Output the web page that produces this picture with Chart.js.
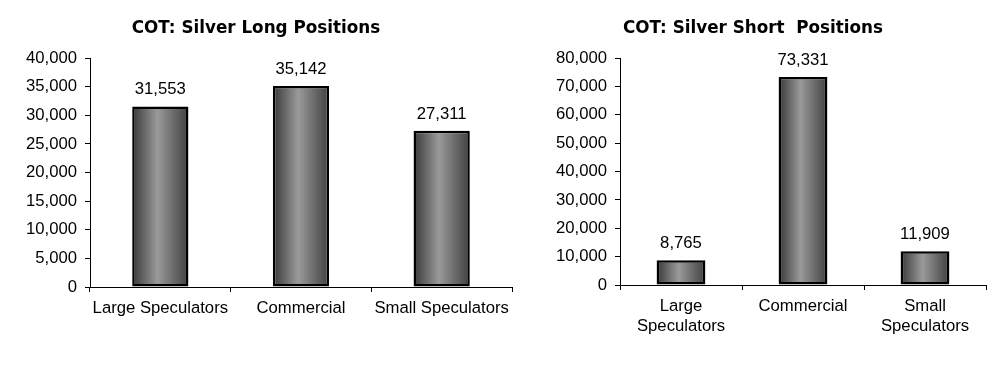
<!DOCTYPE html>
<html>
<head>
<meta charset="utf-8">
<script src="https://cdn.jsdelivr.net/npm/chart.js@4/dist/chart.umd.min.js"></script>
<style>
  html, body { margin: 0; padding: 0; background: #fff; }
  #wrap { position: relative; width: 1008px; height: 382px; overflow: hidden; }
  .box { position: absolute; top: 0; height: 382px; }
  #b1 { left: 0; width: 520px; }
  #b2 { left: 520px; width: 488px; }
</style>
</head>
<body>
<div id="wrap">
  <div class="box" id="b1"><canvas id="c1" width="520" height="382"></canvas></div>
  <div class="box" id="b2"><canvas id="c2" width="488" height="382"></canvas></div>
</div>
<script>
// ---- data ----
const longTitle = 'COT: Silver Long Positions';
const shortTitle = 'COT: Silver Short  Positions';
const longCategories = ['Large Speculators', 'Commercial', 'Small Speculators'];
const shortCategories = [['Large', 'Speculators'], 'Commercial', ['Small', 'Speculators']];
const longValues = [31553, 35142, 27311];
const shortValues = [8765, 73331, 11909];
const longTicks = [0, 5000, 10000, 15000, 20000, 25000, 30000, 35000, 40000];
const shortTicks = [0, 10000, 20000, 30000, 40000, 50000, 60000, 70000, 80000];

const FONT = '"Liberation Sans", Arial, sans-serif';
const FS = 16.7;
const fmt = v => Number(v).toLocaleString('en-US');
const BAR_PCT = 0.4;

function barGradient(ctx) {
  const chart = ctx.chart;
  const xs = chart.scales && chart.scales.x;
  if (!xs || ctx.dataIndex === undefined || !isFinite(xs.getPixelForValue(ctx.dataIndex))) return '#888';
  const cx = xs.getPixelForValue(ctx.dataIndex);
  const w = (xs.width / chart.data.labels.length) * BAR_PCT;
  const g = chart.ctx.createLinearGradient(cx - w / 2, 0, cx + w / 2, 0);
  g.addColorStop(0, '#383838');
  g.addColorStop(0.45, '#9a9a9a');
  g.addColorStop(1, '#404040');
  return g;
}

const valueLabels = {
  id: 'valueLabels',
  afterDatasetsDraw(chart) {
    const c = chart.ctx;
    const meta = chart.getDatasetMeta(0);
    const vals = chart.data.datasets[0].data;
    c.save();
    c.font = FS + 'px ' + FONT;
    c.fillStyle = '#000';
    c.textAlign = 'center';
    c.textBaseline = 'alphabetic';
    meta.data.forEach((el, i) => {
      c.fillText(fmt(vals[i]), el.x, el.y - 12);
    });
    c.restore();
  }
};

function makeChart(id, title, labels, values, ticks, yWidth, xHeight, padRight) {
  return new Chart(document.getElementById(id), {
    type: 'bar',
    data: {
      labels: labels,
      datasets: [{
        data: values,
        backgroundColor: barGradient,
        borderColor: '#000',
        borderWidth: 2.5,
        borderSkipped: false,
        categoryPercentage: 1,
        barPercentage: BAR_PCT
      }]
    },
    options: {
      responsive: false,
      animation: false,
      devicePixelRatio: 1,
      layout: { padding: { left: 0, right: padRight, top: 0, bottom: 0 } },
      plugins: {
        legend: { display: false },
        tooltip: { enabled: false },
        title: {
          display: true,
          text: title,
          color: '#000',
          font: { family: '"DejaVu Sans", Verdana, sans-serif', size: 16.8, weight: 'bold', lineHeight: 1.2 },
          padding: { top: 19, bottom: 19 }
        }
      },
      scales: {
        x: {
          offset: true,
          grid: { display: true, offset: true, drawOnChartArea: false, drawTicks: true, tickLength: 5, color: '#000', lineWidth: 1 },
          border: { display: true, color: '#000', width: 1 },
          ticks: { color: '#000', font: { family: FONT, size: FS, lineHeight: 1.2 }, padding: 6, maxRotation: 0, autoSkip: false },
          afterFit: s => { s.height = xHeight; }
        },
        y: {
          min: ticks[0],
          max: ticks[ticks.length - 1],
          afterBuildTicks: s => { s.ticks = ticks.map(v => ({ value: v })); },
          grid: { display: true, drawOnChartArea: false, drawTicks: true, tickLength: 5, color: '#000', lineWidth: 1 },
          border: { display: true, color: '#000', width: 1 },
          ticks: { color: '#000', font: { family: FONT, size: FS }, padding: 8, callback: v => fmt(v) },
          afterFit: s => { s.width = yWidth; }
        }
      }
    },
    plugins: [valueLabels]
  });
}

makeChart('c1', longTitle, longCategories, longValues, longTicks, 90, 95, 8);
makeChart('c2', shortTitle, shortCategories, shortValues, shortTicks, 100, 97, 22);
</script>
</body>
</html>
